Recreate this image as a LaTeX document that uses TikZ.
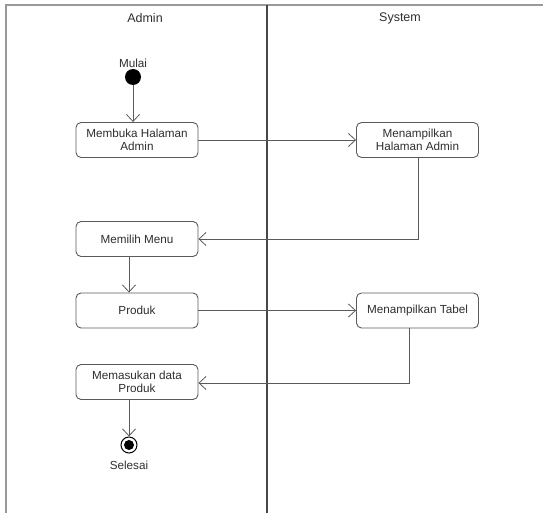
\documentclass[tikz,border=0pt]{standalone}
\usepackage{fontspec}
\setmainfont{Liberation Sans}
\usetikzlibrary{arrows.meta}
\definecolor{linecol}{HTML}{5A5A5A}
\definecolor{txtcol}{HTML}{2E2E2E}
\begin{document}
\begin{tikzpicture}[x=1pt,y=-1pt,
  act/.style={draw=linecol, line width=0.9pt, rounded corners=5pt, minimum width=122pt, minimum height=35pt, align=center, font=\fontsize{11.7}{13}\selectfont, text=txtcol, inner sep=1pt},
  flow/.style={draw=linecol, line width=0.8pt, -{Straight Barb[length=7pt,width=13pt]}},
  lbl/.style={font=\fontsize{11.7}{13}\selectfont, text=txtcol, inner sep=0pt},
  head/.style={font=\fontsize{12.5}{14}\selectfont, text=txtcol, inner sep=0pt}]
\useasboundingbox (0,0) rectangle (543,513);
% frame
\draw[draw=gray!80, line width=1.5pt] (5,5) -- (543,5);
\draw[draw=gray!80, line width=1.5pt] (6,5) -- (6,513);
\draw[draw=linecol!80!black, line width=2pt] (267,5) -- (267,513);
\node[head] (hA) at (145,18) {Admin};
\node[head] (hS) at (400,18) {System};
% start
\node[lbl] (mulai) at (133,63) {Mulai};
\node[circle, fill=black, minimum size=16pt, inner sep=0pt] (start) at (133,77) {};
% activities
\node[act] (a1) at (137,140) {Membuka Halaman\\Admin};
\node[act] (s1) at (417.5,140) {Menampilkan\\Halaman Admin};
\node[act] (a2) at (137,239) {Memilih Menu};
\node[act] (a3) at (137,310.5) {Produk};
\node[act] (s2) at (417.5,310.5) {Menampilkan Tabel};
\node[act] (a4) at (137,382) {Memasukan data\\Produk};
% end
\node[circle, draw=black, line width=1pt, fill=white, minimum size=16pt, inner sep=0pt] (endc) at (129,445) {};
\node[circle, fill=black, minimum size=10pt, inner sep=0pt] (endi) at (129,445) {};
\node[lbl] (selesai) at (129,465) {Selesai};
% flows
\draw[flow] (start.south) -- (start.south |- a1.north);
\draw[flow] (a1.east) -- (s1.west);
\coordinate (c1) at (418,239);
\draw[flow] (s1.south -| c1) -- (c1) -- (a2.east);
\draw[flow] (a2.south -| 129,0) -- (a3.north -| 129,0);
\draw[flow] (a3.east) -- (s2.west);
\coordinate (c2) at (409,383);
\draw[flow] (s2.south -| c2) -- (c2) -- (a4.east |- c2);
\draw[flow] (a4.south -| endc) -- (endc.north);
\end{tikzpicture}
\end{document}
